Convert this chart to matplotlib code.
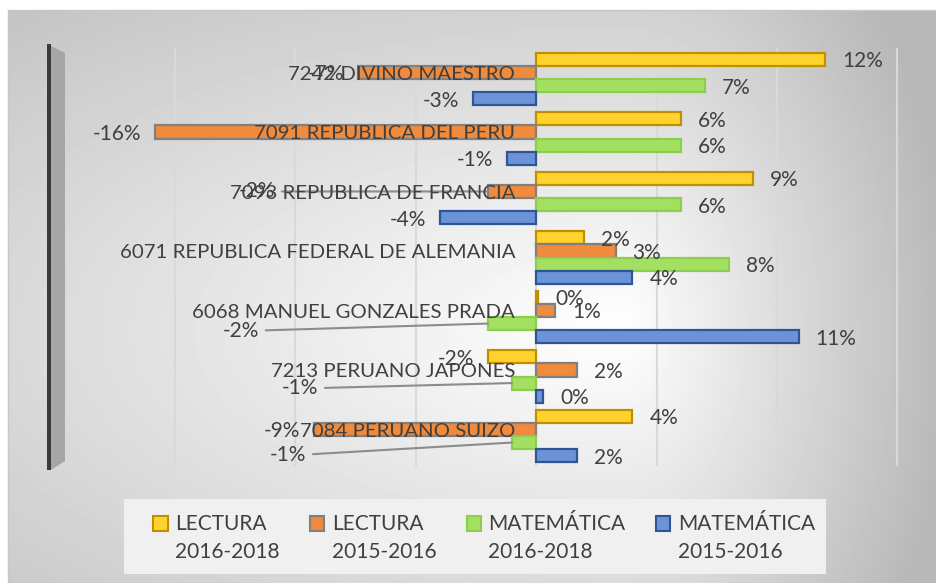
import numpy as np
import matplotlib
matplotlib.use('Agg')
import matplotlib.pyplot as plt
from matplotlib.patches import Polygon, Patch, Rectangle
from matplotlib.legend_handler import HandlerPatch

plt.rcParams['font.family'] = ['Lato', 'DejaVu Sans']

# datos (fraccion, 0.12 = 12%)
escuelas = ['7242 DIVINO MAESTRO', '7091 REPUBLICA DEL PERU', '7093 REPUBLICA DE FRANCIA',
            '6071 REPUBLICA FEDERAL DE ALEMANIA', '6068 MANUEL GONZALES PRADA',
            '7213 PERUANO JAPONES', '7084 PERUANO SUIZO']
series = ['LECTURA\n2016-2018', 'LECTURA\n2015-2016',
          'MATEMÁTICA\n2016-2018', 'MATEMÁTICA\n2015-2016']
lectura_16_18 = [0.120, 0.060, 0.090, 0.020, 0.001, -0.020, 0.040]
lectura_15_16 = [-0.074, -0.158, -0.020, 0.033, 0.008, 0.017, -0.092]
matematica_16_18 = [0.070, 0.060, 0.060, 0.080, -0.020, -0.010, -0.010]
matematica_15_16 = [-0.026, -0.012, -0.040, 0.040, 0.109, 0.003, 0.017]

valores = [lectura_16_18, lectura_15_16, matematica_16_18, matematica_15_16]
rellenos = ['#ffd22e', '#f08a3c', '#a3e062', '#6c93d8']
bordes = ['#bf9000', '#808080', '#8ccf4d', '#2f5597']
desplaz = [-0.33, -0.11, 0.11, 0.33]
gris_texto = '#404040'
tam = 15

# etiquetas que en el original fueron movidas a mano (pixeles desde el extremo de la barra)
etiquetas_movidas = {(2, 1): (-213, 0), (4, 2): (-229, -7), (5, 2): (-194, -5), (6, 2): (-206, -12)}

W, H = 936, 583
fig = plt.figure(figsize=(W / 100, H / 100), dpi=100)

# fondo con degradado gris
bg = fig.add_axes([0, 0, 1, 1])
bg.set_xlim(0, W)
bg.set_ylim(H, 0)
bg.axis('off')
xx, yy = np.meshgrid(np.arange(8, W), np.arange(10, H))
sx = np.where(xx < 620, 850.0, 250.0)
r = np.sqrt(((xx - 620) / sx) ** 2 + ((yy - 330) / 380.0) ** 2)
gris = np.clip(1 - 0.21 * r, 0.72, 1)
bg.imshow(gris, cmap='gray', vmin=0, vmax=1, extent=(8, W, H, 10), aspect='auto')
bg.plot([8, W], [10, 10], color='#c8c8c8', lw=1)
bg.plot([8, 8], [10, H], color='#c8c8c8', lw=1)

# pared lateral (efecto 3D)
bg.add_patch(Polygon([(51, 46), (65, 53), (65, 461), (51, 470)], closed=True,
                     facecolor='#a6a6a6', edgecolor='none'))
bg.add_patch(Polygon([(47, 44), (51, 44), (51, 470), (47, 470)], closed=True,
                     facecolor='#3a3a3a', edgecolor='none'))
# caja de la leyenda
bg.add_patch(Rectangle((124, 499), 702, 75, facecolor='#f0f0f0', edgecolor='none'))

ax = fig.add_axes([64 / W, (H - 466) / H, 846 / W, 418 / H])
ax.set_facecolor('none')
ax.set_xlim(-0.1959, 0.1552)
ax.set_ylim(6.504, -0.521)
for s in ax.spines.values():
    s.set_visible(False)
ax.set_xticks(np.arange(-0.15, 0.151, 0.05))
ax.set_yticks([])
ax.tick_params(length=0, labelbottom=False)
ax.grid(axis='x', color='#d9d9d9', lw=1.5)
ax.set_axisbelow(True)

y = np.arange(len(escuelas))
for k, vals in enumerate(valores):
    ax.barh(y + desplaz[k], vals, height=0.22, color=rellenos[k], edgecolor=bordes[k],
            lw=1.6, clip_on=False, zorder=3)
    for i, v in enumerate(vals):
        txt = f'{v:.0%}'
        if (i, k) in etiquetas_movidas:
            dx, dy = etiquetas_movidas[(i, k)]
            ax.annotate(txt, xy=(v, y[i] + desplaz[k]), xytext=(dx, dy),
                        textcoords='offset pixels', ha='right', va='center',
                        fontsize=tam, color=gris_texto, zorder=5,
                        arrowprops=dict(arrowstyle='-', color='#8c8c8c', lw=1.5,
                                        shrinkA=3, shrinkB=0, relpos=(1, 0.5)))
        elif v >= 0:
            ax.annotate(txt, xy=(v, y[i] + desplaz[k]), xytext=(17, -2),
                        textcoords='offset pixels', ha='left', va='center',
                        fontsize=tam, color=gris_texto, zorder=5)
        else:
            ax.annotate(txt, xy=(v, y[i] + desplaz[k]), xytext=(-14, -2),
                        textcoords='offset pixels', ha='right', va='center',
                        fontsize=tam, color=gris_texto, zorder=5)

for i, nombre in enumerate(escuelas):
    ax.annotate(nombre, xy=(0, y[i]), xytext=(-21, 5), textcoords='offset pixels',
                ha='right', va='center', fontsize=14.7, color=gris_texto, zorder=6)


# cuadrito de la leyenda alineado con la primera linea del texto
def cuadro_arriba(legend, orig_handle, xdescent, ydescent, width, height, fontsize):
    return Rectangle((-xdescent, -ydescent + 0.72 * fontsize), width, height)


handles = [Patch(facecolor=rellenos[k], edgecolor=bordes[k], lw=1.5) for k in range(4)]
leg = fig.legend(handles, series, loc='center', bbox_to_anchor=(484 / W, 1 - 538 / H),
                 ncol=4, frameon=False, fontsize=tam, labelcolor=gris_texto,
                 handlelength=0.7, handleheight=0.7, handletextpad=0.35, columnspacing=1.45,
                 handler_map={Patch: HandlerPatch(patch_func=cuadro_arriba)})
for t in leg.get_texts():
    t.set_linespacing(1.5)

fig.savefig('out.png', dpi=100)
